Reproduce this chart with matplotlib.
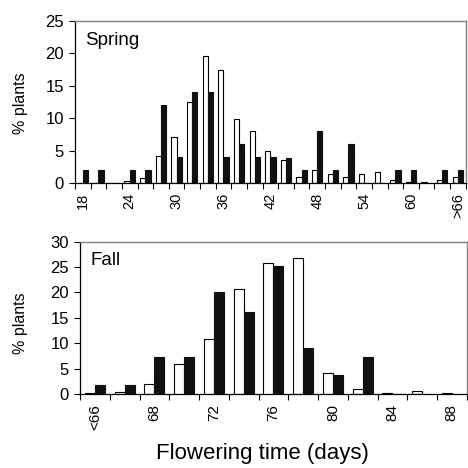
import matplotlib
matplotlib.use("Agg")
import matplotlib.pyplot as plt
import numpy as np

plt.rcParams['font.family'] = ['Liberation Sans', 'DejaVu Sans']

# Spring data (2-day bins 18..64, >66)
spring_labels_pos = [0, 3, 6, 9, 12, 15, 18, 21, 24]
spring_tick_labels = ["18", "24", "30", "36", "42", "48", "54", "60", ">66"]
spring_white = [0, 0, 0, 0.3, 0.8, 4.2, 7.1, 12.5, 19.5, 17.4, 9.9, 8.0, 4.9,
                3.6, 1.0, 2.0, 1.5, 1.0, 1.5, 1.8, 0.45, 0.25, 0.25, 0.45, 1.0]
spring_black = [2, 2, 0, 2, 2, 12, 4, 14, 14, 4, 6, 4, 4,
                3.9, 2, 8, 2, 6, 0, 0, 2, 2, 0, 2, 2]

# Fall data (<66, 66..88)
fall_labels_pos = [0, 2, 4, 6, 8, 10, 12]
fall_tick_labels = ["<66", "68", "72", "76", "80", "84", "88"]
fall_white = [0.2, 0.4, 2.0, 5.9, 10.9, 20.6, 25.9, 26.8, 4.2, 1.05, 0.2, 0.5, 0.2]
fall_black = [1.7, 1.7, 7.2, 7.2, 20.0, 16.2, 25.3, 9.0, 3.7, 7.2, 0, 0, 0]

fig = plt.figure(figsize=(4.68, 4.68), dpi=100)
ax1 = fig.add_axes([75/468, 1-183.3/468, 390.7/468, 162.6/468])
ax2 = fig.add_axes([80/468, 1-394/468, 386.75/468, 152.3/468])


def draw(ax, white, black, lpos, labels, ymax, title, xfs):
    n = len(white)
    x = np.arange(n)
    w = 1/3
    ax.bar(x - w/2, white, width=w, color='white', edgecolor='black', linewidth=0.8)
    ax.bar(x + w/2, black, width=w, color='#111111', edgecolor='#111111', linewidth=0.8)
    ax.set_xlim(-0.5, n - 0.5)
    ax.set_ylim(0, ymax)
    ax.set_yticks(np.arange(0, ymax + 1, 5))
    ax.tick_params(axis='y', direction='out', length=4, width=0.8, labelsize=12, pad=4)
    ax.set_xticks(lpos)
    ax.set_xticklabels(labels, rotation=90, fontsize=xfs)
    ax.tick_params(axis='x', which='major', length=0, pad=7)
    ax.set_xticks(np.arange(-0.5, n, 1), minor=True)
    ax.tick_params(axis='x', which='minor', direction='out', length=4, width=0.8)
    for s in ['top', 'right']:
        ax.spines[s].set_color('#808080')
        ax.spines[s].set_linewidth(1.0)
    for s in ['left', 'bottom']:
        ax.spines[s].set_color('black')
        ax.spines[s].set_linewidth(0.9)
    ax.text(0.027, 0.93, title, transform=ax.transAxes, fontsize=13.5,
            ha='left', va='top')


draw(ax1, spring_white, spring_black, spring_labels_pos, spring_tick_labels, 25, "Spring", 10.5)
draw(ax2, fall_white, fall_black, fall_labels_pos, fall_tick_labels, 30, "Fall", 11)

fig.text(20.5/468, 1-103/468, "% plants", rotation=90, ha='center', va='center', fontsize=11.5)
fig.text(20.5/468, 1-323/468, "% plants", rotation=90, ha='center', va='center', fontsize=11.5)
fig.text(262/468, 1-453/468, "Flowering time (days)", ha='center', va='center', fontsize=16)

fig.savefig("out.png", dpi=100)
